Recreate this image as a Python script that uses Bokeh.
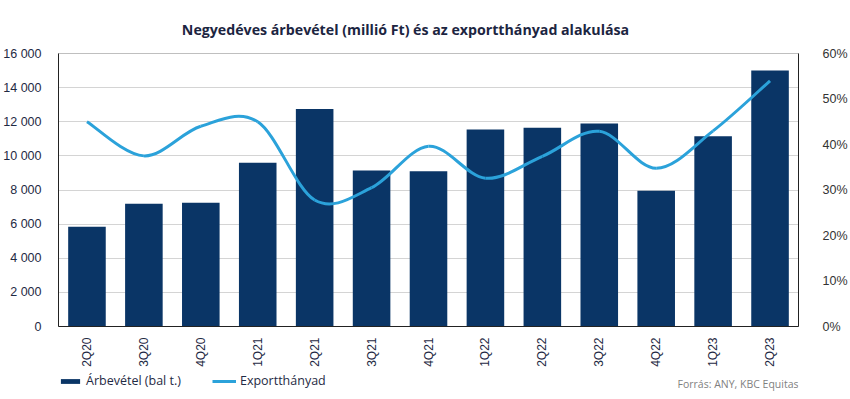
import math
import numpy as np
from bokeh.plotting import figure
from bokeh.layouts import column
from bokeh.models import (Range1d, LinearAxis, FixedTicker, Legend, LegendItem, Label, ColumnDataSource)
from bokeh.embed import file_html
from bokeh.resources import INLINE

# ---------------- data ----------------
quarters = ["2Q20", "3Q20", "4Q20", "1Q21", "2Q21", "3Q21", "4Q21",
            "1Q22", "2Q22", "3Q22", "4Q22", "1Q23", "2Q23"]
revenue = [5850, 7200, 7250, 9600, 12750, 9150, 9100, 11550, 11650, 11900, 7950, 11150, 15000]
export_share = [45.0, 37.5, 44.0, 45.0, 27.8, 30.5, 39.6, 32.6, 37.4, 42.9, 34.8, 43.0, 54.0]
left_ticks = [0, 2000, 4000, 6000, 8000, 10000, 12000, 14000, 16000]
left_tick_labels = ["0", "2 000", "4 000", "6 000", "8 000", "10 000", "12 000", "14 000", "16 000"]
right_ticks = [0, 10, 20, 30, 40, 50, 60]
right_tick_labels = ["0%", "10%", "20%", "30%", "40%", "50%", "60%"]
title_text = "Negyedéves árbevétel (millió Ft) és az exportthányad alakulása"
legend_labels = ["Árbevétel (bal t.)", "Exportthányad"]
source_text = "Forrás: ANY, KBC Equitas"

BAR = "#0a3566"
LINE = "#2ba2da"
TXT = "#1f2a44"
GRID = "#d4d4d4"

W = 850
H_HEAD = 40
H_MAIN = 330
H_FOOT = 29


def blank_panel(h):
    fig = figure(width=W, height=h, output_backend="svg", toolbar_location=None,
                 x_range=Range1d(0, 1), y_range=Range1d(0, 1),
                 x_axis_type=None, y_axis_type=None,
                 min_border=0, min_border_left=0, min_border_right=0,
                 min_border_top=0, min_border_bottom=0)
    fig.outline_line_color = None
    fig.background_fill_color = "white"
    fig.border_fill_color = "white"
    return fig


# ---------------- header: title ----------------
hdr = blank_panel(H_HEAD)
hdr.add_layout(Label(x=347, y=11, x_units="screen", y_units="screen", text=title_text,
                     text_align="center", text_baseline="middle", text_font="Open Sans",
                     text_font_size="14.2px", text_font_style="bold", text_color="#1c2541"))

# ---------------- main chart ----------------
p = figure(width=W, height=H_MAIN, output_backend="svg", toolbar_location=None,
           x_range=Range1d(-0.5, len(quarters) - 0.5), y_range=Range1d(0, 16000),
           min_border_left=58, min_border_right=50, min_border_top=13, min_border_bottom=44)
p.extra_y_ranges = {"pct": Range1d(0, 60)}

p.outline_line_color = "#bfbfbf"
p.xgrid.visible = False
p.ygrid.ticker = FixedTicker(ticks=left_ticks)
p.ygrid.grid_line_color = GRID
p.background_fill_color = "white"
p.border_fill_color = "white"

xs = list(range(len(quarters)))
src = ColumnDataSource(dict(x=xs, rev=revenue))
p.vbar(x="x", top="rev", width=0.66, source=src, fill_color=BAR, line_color=None)

# smoothed line (Catmull-Rom -> Bezier), computed from the data
P = np.array([xs, export_share], dtype=float).T
n = len(P)
x0, y0, x1, y1, cx0, cy0, cx1, cy1 = [], [], [], [], [], [], [], []
for i in range(n - 1):
    pm = P[i - 1] if i > 0 else P[i]
    p0 = P[i]
    p1 = P[i + 1]
    pp = P[i + 2] if i + 2 < n else P[i + 1]
    c0 = p0 + (p1 - pm) / 6.0
    c1 = p1 - (pp - p0) / 6.0
    x0.append(p0[0]); y0.append(p0[1]); x1.append(p1[0]); y1.append(p1[1])
    cx0.append(c0[0]); cy0.append(c0[1]); cx1.append(c1[0]); cy1.append(c1[1])
p.bezier(x0=x0, y0=y0, x1=x1, y1=y1, cx0=cx0, cy0=cy0, cx1=cx1, cy1=cy1,
         line_color=LINE, line_width=3, y_range_name="pct")

# axes
xa = p.xaxis[0]
xa.ticker = FixedTicker(ticks=xs)
xa.major_label_overrides = {i: q for i, q in enumerate(quarters)}
xa.major_label_orientation = math.pi / 2
xa.major_tick_line_color = None
xa.minor_tick_line_color = None
xa.axis_line_color = "#222222"
xa.major_label_text_font = "Liberation Sans"
xa.major_label_text_font_size = "12px"
xa.major_label_text_color = TXT
xa.major_label_standoff = 5

ya = p.yaxis[0]
ya.ticker = FixedTicker(ticks=left_ticks)
ya.major_label_overrides = dict(zip(left_ticks, left_tick_labels))
ya.minor_tick_line_color = None
ya.major_tick_line_color = None
ya.axis_line_color = "#222222"
ya.major_label_text_font = "Liberation Sans"
ya.major_label_text_font_size = "12.5px"
ya.major_label_text_color = TXT
ya.major_label_standoff = 11

ra = LinearAxis(y_range_name="pct", ticker=FixedTicker(ticks=right_ticks))
ra.major_label_overrides = dict(zip(right_ticks, right_tick_labels))
ra.minor_tick_line_color = None
ra.major_tick_line_color = None
ra.axis_line_color = "#222222"
ra.major_label_text_font = "Liberation Sans"
ra.major_label_text_font_size = "12.5px"
ra.major_label_text_color = "#333333"
ra.major_label_standoff = 18
p.add_layout(ra, "right")

# ---------------- footer: legend + source ----------------
f = blank_panel(H_FOOT)
nan = float("nan")
r_bar = f.vbar(x=[nan], top=[nan], width=1, fill_color=BAR, line_color=None)
r_line = f.line(x=[nan, nan], y=[nan, nan], line_color=LINE, line_width=3)
legend = Legend(items=[LegendItem(label=legend_labels[0], renderers=[r_bar]),
                       LegendItem(label=legend_labels[1], renderers=[r_line])],
                orientation="horizontal", location=(0, 10),
                glyph_width=24, glyph_height=6, label_standoff=4, spacing=31,
                padding=0, margin=0, border_line_color=None, background_fill_alpha=0,
                label_text_font="Open Sans", label_text_font_size="12.5px", label_text_color=TXT,
                label_height=14)
f.add_layout(legend, "center")
f.add_layout(Label(x=1.0, y=16, y_units="screen", text=source_text,
                   text_align="right", text_baseline="middle", text_font="Open Sans",
                   text_font_size="10.5px", text_color="#7f7f7f"))

layout = column(hdr, p, f, spacing=0)
open("out.html", "w").write(file_html(layout, INLINE))
